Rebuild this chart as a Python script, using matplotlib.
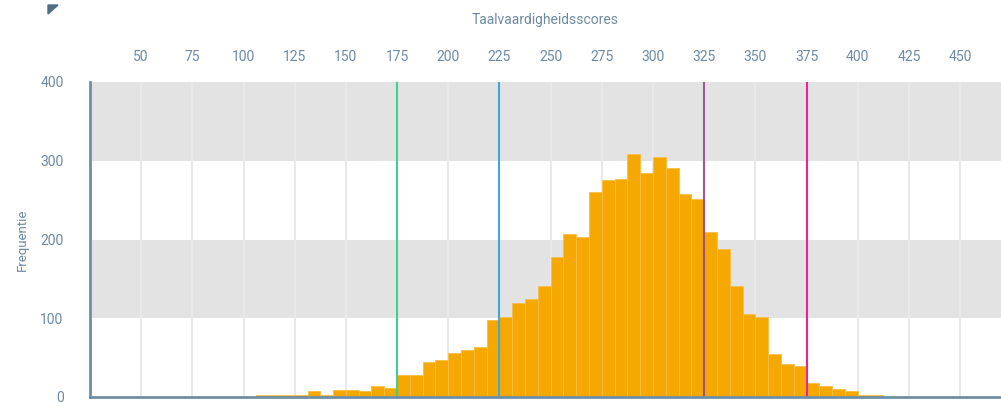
import numpy as np
import matplotlib
matplotlib.use('Agg')
import matplotlib.pyplot as plt
from matplotlib.patches import Polygon

# Histogram data: bins of 6.25 points starting at 106.25
bin_start = 106.25
bin_width = 6.25
counts = [3, 3, 3, 3, 7, 3, 9, 9, 8, 14, 12,
          28, 28, 44, 47, 56, 60, 64, 98, 101, 119, 124, 141,
          178, 207, 203, 260, 276, 277, 308, 285, 305, 291, 258, 251,
          210, 188, 141, 106, 102, 55, 42, 40,
          18, 14, 10, 7, 3, 2]

# Cut-off scores (vertical lines)
cutoffs = [175, 225, 325, 375]
cutoff_colors = ['#3fd08f', '#3ea8dc', '#8c358c', '#e8239a']
cutoff_alpha = [1.0, 1.0, 0.8, 1.0]

x_ticks = [50, 75, 100, 125, 150, 175, 200, 225, 250, 275, 300, 325, 350, 375, 400, 425, 450]
y_ticks = [0, 100, 200, 300, 400]

text_col = '#6d8aa2'
axis_col = '#6f8ea8'

plt.rcParams['font.family'] = ['Roboto', 'DejaVu Sans']

fig = plt.figure(figsize=(10.01, 4.03), dpi=100)
ax = fig.add_axes([90 / 1001, 6 / 403, 911 / 1001, 315 / 403])

# grey bands
for lo, hi in [(100, 200), (300, 400)]:
    ax.axhspan(lo, hi, color='#e3e3e3', zorder=0, lw=0)

for t in x_ticks:
    ax.axvline(t, color='#e9e9e9', lw=1.5, zorder=0.5)

lefts = bin_start + bin_width * np.arange(len(counts))
ax.bar(lefts, counts, width=bin_width, align='edge', color='#f5a800',
       edgecolor='#f8bd45', linewidth=0.6, zorder=2)

for c, col, a in zip(cutoffs, cutoff_colors, cutoff_alpha):
    ax.axvline(c, color=col, lw=1.5, alpha=a, zorder=3)

ax.set_xlim(25, 470)
ax.set_ylim(0, 400)

ax.xaxis.tick_top()
ax.xaxis.set_label_position('top')
ax.set_xticks(x_ticks)
ax.set_yticks(y_ticks)
ax.tick_params(axis='x', length=0, pad=13, labelsize=10, colors=text_col)
ax.tick_params(axis='y', length=0, pad=19, labelsize=10, colors=text_col)
ax.set_xlabel('Taalvaardigheidsscores', fontsize=10, color=text_col, labelpad=19)
ax.set_ylabel('Frequentie', fontsize=9.5, color=text_col, labelpad=8)

for s in ['top', 'right']:
    ax.spines[s].set_visible(False)
for s in ['left', 'bottom']:
    ax.spines[s].set_color(axis_col)
    ax.spines[s].set_linewidth(2)
    ax.spines[s].set_zorder(4)

# small corner marker top-left
tri = Polygon([[48 / 1001, 1 - 5 / 403], [58 / 1001, 1 - 5 / 403], [48 / 1001, 1 - 14 / 403]],
              closed=True, transform=fig.transFigure, color='#4f6e88')
fig.patches.append(tri)

fig.savefig('out.png', dpi=100)
